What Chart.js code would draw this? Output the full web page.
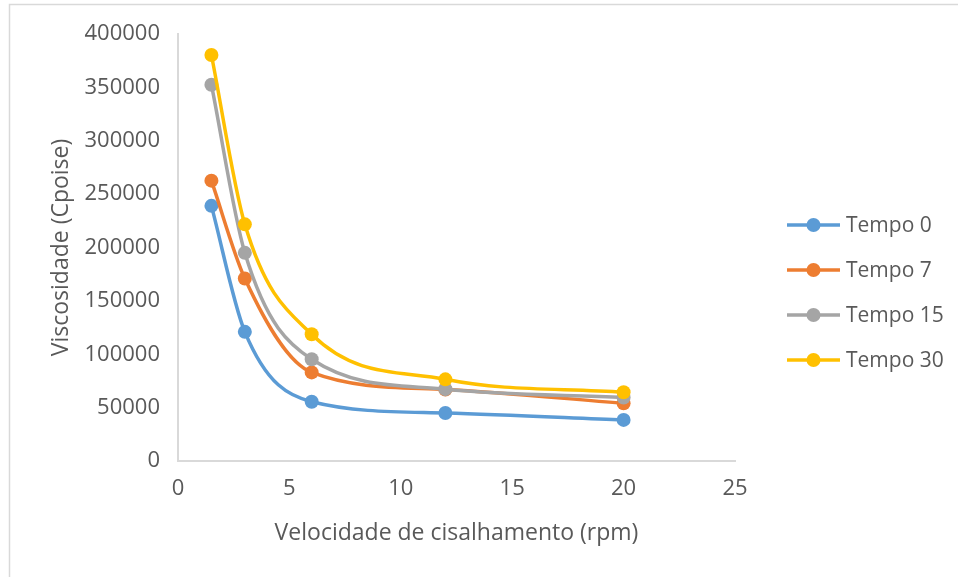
<!DOCTYPE html>
<html>
<head>
<meta charset="utf-8">
<script src="https://cdn.jsdelivr.net/npm/chart.js@4/dist/chart.umd.min.js"></script>
<style>
  html, body { margin: 0; padding: 0; background: #fff; }
  #wrap { width: 958px; height: 577px; position: relative; }
</style>
</head>
<body>
<div id="wrap"><canvas id="c" width="958" height="577"></canvas></div>
<script>
// Shear rate (rpm) and viscosity readings per storage time
const velocidades = [1.5, 3, 6, 12, 20];
const seriesNames = ['Tempo 0', 'Tempo 7', 'Tempo 15', 'Tempo 30'];
const tempo0 = [239000, 121000, 55500, 45000, 38500];
const tempo7 = [262600, 171000, 83000, 67000, 54000];
const tempo15 = [352500, 195000, 95300, 67300, 59500];
const tempo30 = [380300, 221700, 118700, 76500, 64400];
const seriesValues = [tempo0, tempo7, tempo15, tempo30];
const seriesColors = ['#5b9bd5', '#ed7d31', '#a5a5a5', '#ffc000'];

const FONT = '"Open Sans", "Liberation Sans", sans-serif';
const TEXT = '#595959';

const datasets = seriesNames.map((name, i) => ({
  label: name,
  data: velocidades.map((x, j) => ({ x: x, y: seriesValues[i][j] })),
  borderColor: seriesColors[i],
  backgroundColor: seriesColors[i],
  borderWidth: 3.5,
  pointRadius: 7,
  pointHoverRadius: 7,
  pointBorderWidth: 0,
  cubicInterpolationMode: 'monotone',
  order: seriesNames.length - i
}));

// Thin frame around the whole chart
const framePlugin = {
  id: 'frame',
  beforeDraw(chart) {
    const ctx = chart.ctx;
    ctx.save();
    ctx.fillStyle = '#ffffff';
    ctx.fillRect(0, 0, chart.width, chart.height);
    ctx.strokeStyle = '#d9d9d9';
    ctx.lineWidth = 1.5;
    ctx.strokeRect(9.5, 4.5, chart.width + 10, chart.height + 10);
    ctx.restore();
  }
};

// Legend on the right: short line with a dot, then the series name
const sideLegend = {
  id: 'sideLegend',
  afterDraw(chart) {
    const ctx = chart.ctx;
    const x0 = 787, x1 = 840, textX = 846;
    const yStart = 225, step = 45;
    ctx.save();
    chart.data.datasets.forEach((ds, i) => {
      const y = yStart + i * step;
      ctx.strokeStyle = ds.borderColor;
      ctx.lineWidth = 3.5;
      ctx.beginPath();
      ctx.moveTo(x0, y);
      ctx.lineTo(x1, y);
      ctx.stroke();
      ctx.fillStyle = ds.backgroundColor;
      ctx.beginPath();
      ctx.arc((x0 + x1) / 2, y, 7, 0, Math.PI * 2);
      ctx.fill();
      ctx.fillStyle = TEXT;
      ctx.font = '21px ' + FONT;
      ctx.textBaseline = 'middle';
      ctx.textAlign = 'left';
      ctx.fillText(ds.label, textX, y + 1);
    });
    ctx.restore();
  }
};

new Chart(document.getElementById('c'), {
  type: 'line',
  data: { datasets: datasets },
  plugins: [framePlugin, sideLegend],
  options: {
    responsive: false,
    animation: false,
    events: [],
    layout: { padding: { left: 48, right: 223, top: 34, bottom: 20 } },
    plugins: { legend: { display: false }, tooltip: { enabled: false } },
    scales: {
      x: {
        type: 'linear',
        min: 0,
        max: 25,
        ticks: { stepSize: 5, color: TEXT, font: { family: FONT, size: 22 }, padding: 15 },
        grid: { display: false, drawTicks: false },
        border: { display: true, color: '#d9d9d9', width: 2 },
        title: {
          display: true,
          text: 'Velocidade de cisalhamento (rpm)',
          color: TEXT,
          font: { family: FONT, size: 23 },
          padding: { top: 10, bottom: 10 }
        },
        afterFit(scale) { scale.height = 577 - 461 - 20; }
      },
      y: {
        min: 0,
        max: 400000,
        ticks: {
          stepSize: 50000,
          color: TEXT,
          font: { family: FONT, size: 22 },
          padding: 18,
          callback: (v) => String(v)
        },
        grid: { display: false, drawTicks: false },
        border: { display: true, color: '#d9d9d9', width: 2 },
        title: {
          display: true,
          text: 'Viscosidade (Cpoise)',
          color: TEXT,
          font: { family: FONT, size: 23 },
          padding: { top: 0, bottom: 0 }
        },
        afterFit(scale) { scale.width = 178 - 48; }
      }
    }
  }
});
</script>
</body>
</html>
